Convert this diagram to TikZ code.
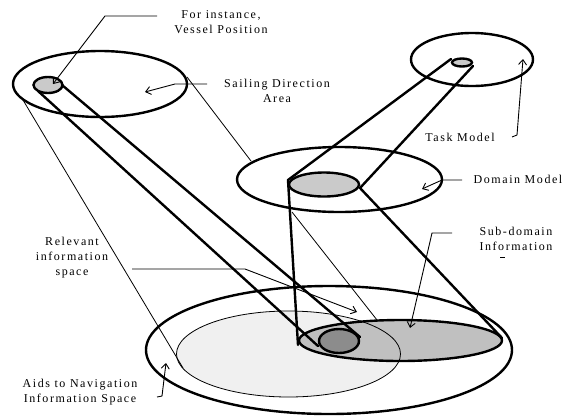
\documentclass[tikz,border=0pt]{standalone}
\usepackage{fontspec}
\setmainfont{Liberation Serif}[LetterSpace=13]
\usetikzlibrary{shapes.geometric,arrows.meta}
\definecolor{lightg}{HTML}{F0F0F0}
\definecolor{subg}{HTML}{C0C0C0}
\definecolor{midg}{HTML}{CACACA}
\definecolor{darkg}{HTML}{8C8C8C}
\begin{document}
\begin{tikzpicture}[x=1pt,y=-1pt,
  thickline/.style={line width=2.4pt},
  thinline/.style={line width=0.8pt},
  leader/.style={line width=0.9pt,-{Straight Barb[length=5pt,width=8pt]}},
  ell/.style={ellipse,draw,line width=2.4pt,inner sep=0pt,outer sep=0pt},
  lbl/.style={font=\fontsize{12}{15}\selectfont,align=center,inner sep=0pt}]
\useasboundingbox (0,0) rectangle (578,416);
% bottom level
\node[ell,minimum width=366,minimum height=128] (aids) at (329,350) {};
\node[ellipse,fill=lightg,minimum width=224,minimum height=86,inner sep=0pt] (rel) at (288.5,354) {};
\node[ell,fill=subg,minimum width=203,minimum height=41] (sub) at (400.5,340.5) {};
\node[ellipse,draw,thinline,minimum width=224,minimum height=86,inner sep=0pt] (relb) at (288.5,354) {};
\node[ell,fill=darkg,minimum width=40,minimum height=24] (dark) at (339,341) {};
% top levels
\node[ell,minimum width=174,minimum height=66] (sail) at (100,84) {};
\node[ell,fill=midg,minimum width=29,minimum height=16] (vessel) at (48,85) {};
\node[ell,minimum width=205,minimum height=65] (domain) at (339.5,179.5) {};
\node[ell,fill=midg,minimum width=70,minimum height=24] (dgray) at (324,184.5) {};
\node[ell,minimum width=122,minimum height=53] (task) at (472,59.5) {};
\node[ell,fill=midg,minimum width=20,minimum height=8] (tsmall) at (462,62.5) {};
% connector points
\coordinate (v1) at (38,91);   \coordinate (v2) at (62,85);
\coordinate (d1) at (318,346); \coordinate (d2) at (360,337);
\coordinate (t1) at (451,59);  \coordinate (t2) at (473,66);
\coordinate (g1) at (288,180); \coordinate (g2) at (360,188);
\coordinate (s1) at (298,345); \coordinate (s2) at (502,338);
\coordinate (a1) at (187,77);  \coordinate (b1) at (251,161);
\coordinate (a2) at (23,100);  \coordinate (b2) at (183,368);
\coordinate (a3) at (292,212); \coordinate (b3) at (377,320);
% thick projection lines
\draw[thickline,line cap=round] (v1) -- (d1);
\draw[thickline,line cap=round] (v2) -- (d2);
\draw[thickline,line cap=round] (t1) -- (g1) -- (s1);
\draw[thickline,line cap=round] (t2) -- (g2) -- (s2);
% thin projection lines
\draw[thinline] (a1) -- (b1);
\draw[thinline] (a2) -- (b2);
\draw[thinline] (a3) -- (b3);
% labels
\node[lbl] (lvessel) at (221,22) {For instance,\\Vessel Position};
\node[lbl] (lsail) at (277,91) {Sailing Direction\\Area};
\node[lbl] (ltask) at (460,137) {Task Model};
\node[lbl] (ldomain) at (518,179) {Domain Model};
\node[lbl] (lsub) at (516,239) {Sub-domain\\Information};
\node[lbl] (lrel) at (72,258) {Relevant\\information\\space};
\node[lbl] (laids) at (80,392) {Aids to Navigation\\Information Space};
% leader lines
\coordinate (p1a) at (157,16);  \coordinate (p1b) at (105,16);  \coordinate (p1c) at (53,84);
\coordinate (p2a) at (207,84);  \coordinate (p2b) at (175,84);  \coordinate (p2c) at (145,92);
\coordinate (p3a) at (512,137); \coordinate (p3b) at (517,135); \coordinate (p3c) at (523,59);
\coordinate (p4a) at (462,180); \coordinate (p4b) at (442,180); \coordinate (p4c) at (422,189);
\coordinate (p5a) at (452,233); \coordinate (p5b) at (432,233); \coordinate (p5c) at (410,328);
\coordinate (p6a) at (132,269); \coordinate (p6b) at (245,269); \coordinate (p6c) at (357,312);
\coordinate (p7a) at (157,397); \coordinate (p7b) at (162,396); \coordinate (p7c) at (166,363);
\draw[leader] (p1a) -- (p1b) -- (p1c);
\draw[leader] (p2a) -- (p2b) -- (p2c);
\draw[leader] (p3a) -- (p3b) -- (p3c);
\draw[leader] (p4a) -- (p4b) -- (p4c);
\draw[leader] (p5a) -- (p5b) -- (p5c);
\draw[leader] (p6a) -- (p6b) -- (p6c);
\draw[leader] (p7a) -- (p7b) -- (p7c);
\coordinate (q1) at (500,257); \coordinate (q2) at (505,257);
\draw[line width=0.8pt] (q1) -- (q2);
\end{tikzpicture}
\end{document}
